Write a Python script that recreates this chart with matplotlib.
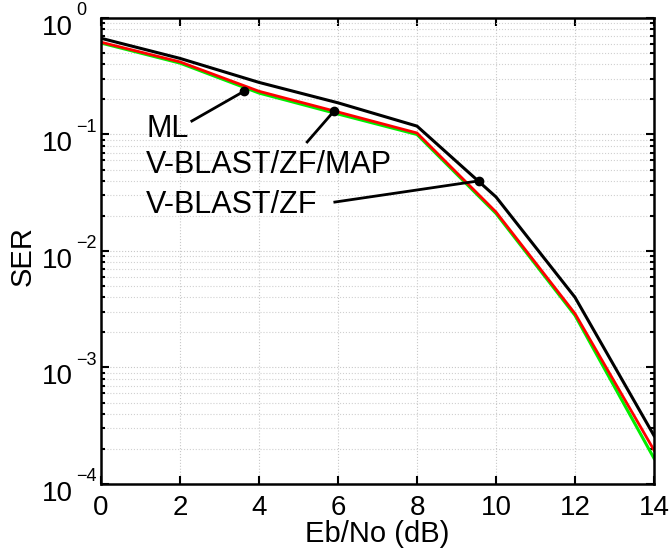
import matplotlib
matplotlib.use('Agg')
import matplotlib.pyplot as plt
import numpy as np
from matplotlib.ticker import LogLocator, NullFormatter

plt.rcParams['font.family'] = ['Liberation Sans', 'DejaVu Sans']

# Eb/No points (dB)
ebno = [0, 2, 4, 6, 8, 10, 12, 14]

# symbol error rates
ser_ml = [0.61, 0.41, 0.227, 0.150, 0.100, 0.0210, 0.0028, 1.66e-4]
ser_map = [0.62, 0.42, 0.235, 0.156, 0.103, 0.0216, 0.0029, 1.95e-4]
ser_zf = [0.67, 0.45, 0.280, 0.187, 0.118, 0.0291, 0.0040, 2.6e-4]

# y decades for the tick labels
decades = [0, -1, -2, -3, -4]

# annotation points (x, y), text baselines and pointer line starts
labels = ['ML', 'V-BLAST/ZF/MAP', 'V-BLAST/ZF']
dots = [(3.62, 0.235), (5.9, 0.159), (9.57, 0.040)]
text_pos = [(1.14, 0.095), (1.14, 0.0467), (1.14, 0.0212)]
line_end = [(2.3, 0.1305), (5.22, 0.0863), (5.92, 0.0263)]

fig = plt.figure(figsize=(6.71, 5.52), dpi=100)
ax = fig.add_axes([0.1505, 0.1232, 0.8242, 0.8442])

ax.semilogy(ebno, ser_ml, color='#00ee00', lw=2.2)
ax.semilogy(ebno, ser_map, color='#ff0000', lw=2.0)
ax.semilogy(ebno, ser_zf, color='black', lw=2.2)

ax.set_xlim(0, 14)
ax.set_ylim(1e-4, 1)
ax.set_xticks(range(0, 15, 2))
ax.yaxis.set_major_locator(LogLocator(base=10, numticks=10))
ax.yaxis.set_minor_locator(LogLocator(base=10, subs=np.arange(2, 10), numticks=20))
ax.yaxis.set_minor_formatter(NullFormatter())

ax.grid(True, which='major', axis='both', color='#c8c8c8', linestyle=':', lw=0.8)
ax.grid(True, which='minor', axis='y', color='#d0d0d0', linestyle=':', lw=0.8)

ax.tick_params(which='both', direction='in', top=True, right=True, width=1.5)
ax.tick_params(which='major', length=6, labelsize=20)
ax.tick_params(axis='x', which='major', pad=8)
ax.tick_params(axis='y', labelleft=False)
ax.tick_params(which='minor', length=3)
for s in ax.spines.values():
    s.set_linewidth(1.8)

# MATLAB style 10^n labels: mantissa a little below the tick, big exponent
for k in decades:
    ax.annotate('10', xy=(0, 10.0 ** k), xycoords=('axes fraction', 'data'),
                xytext=(-28, -10), textcoords='offset pixels',
                ha='right', va='center', fontsize=20, annotation_clip=False)
    ax.annotate(str(k).replace('-', '\u2212'), xy=(0, 10.0 ** k),
                xycoords=('axes fraction', 'data'),
                xytext=(-25, 7), textcoords='offset pixels',
                ha='left', va='center', fontsize=13, annotation_clip=False)

ax.set_xlabel('Eb/No (dB)', fontsize=21, labelpad=-1)
fig.text(23 / 671, 1 - 256 / 552, 'SER', fontsize=21, rotation=90,
         ha='center', va='center')

for lab, d, t, e in zip(labels, dots, text_pos, line_end):
    ax.plot([e[0], d[0]], [e[1], d[1]], color='black', lw=2)
    ax.plot(d[0], d[1], 'o', color='black', ms=6)
    ax.text(t[0], t[1], lab, fontsize=22, va='baseline', ha='left')

fig.savefig('out.png', dpi=100)
